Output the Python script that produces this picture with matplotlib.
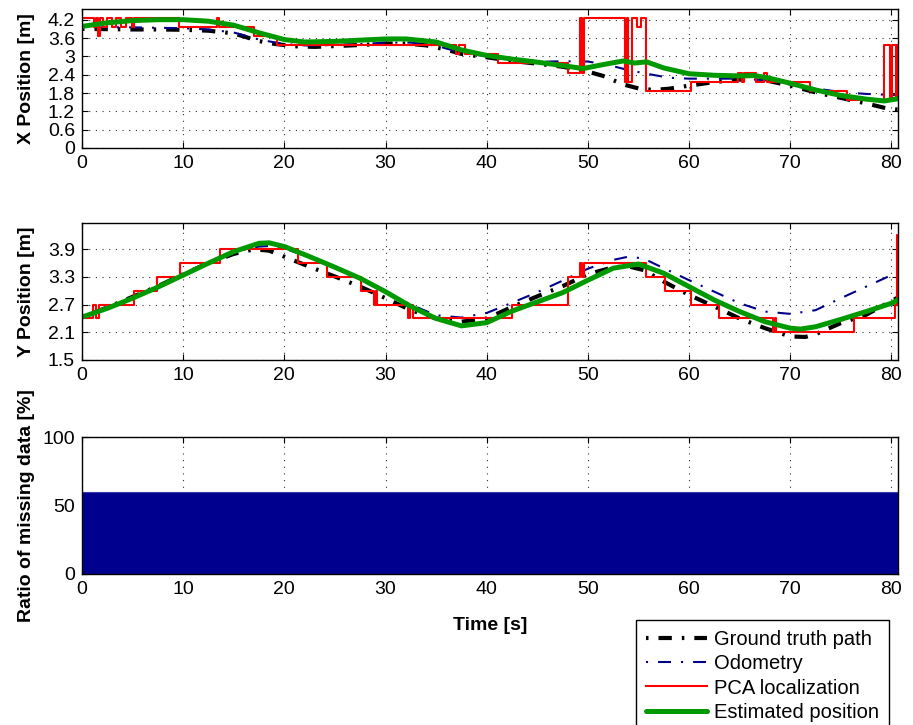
import numpy as np
import matplotlib
matplotlib.use("Agg")
import matplotlib.pyplot as plt

plt.rcParams['font.family'] = ['Liberation Sans', 'DejaVu Sans']

# ---------------- data ----------------
# X position: ground truth
gt_x_t = [0, 2.5, 5, 7.5, 10, 12.5, 15, 17.5, 19, 21, 23, 26, 28, 30, 32, 34, 36, 37.5, 40, 42.5,
          45, 47.5, 50, 51.5, 53.5, 55, 56.5, 58, 60, 62.5, 65, 67.5, 70, 72.5, 75, 77.5, 79.5, 80.6]
gt_x = [3.90, 3.89, 3.88, 3.88, 3.87, 3.84, 3.75, 3.50, 3.41, 3.33, 3.31, 3.35, 3.38, 3.42, 3.42, 3.36,
        3.22, 3.08, 2.97, 2.85, 2.76, 2.66, 2.50, 2.36, 2.08, 1.95, 1.90, 1.94, 2.04, 2.16, 2.24, 2.22,
        2.04, 1.82, 1.64, 1.46, 1.30, 1.26]
# X position: odometry
od_x_t = [0, 5, 10, 12.5, 15, 17.5, 20, 22.5, 25, 27.5, 30, 32.5, 35, 37.5, 40, 42.5, 45, 47.5, 50,
          52, 54, 56, 58, 60, 62.5, 65, 67.5, 70, 72.5, 75, 77.5, 79, 80.6]
od_x = [3.95, 3.95, 3.92, 3.88, 3.78, 3.55, 3.40, 3.35, 3.37, 3.40, 3.45, 3.45, 3.35, 3.12, 3.00, 2.88,
        2.82, 2.84, 2.83, 2.72, 2.55, 2.42, 2.30, 2.27, 2.27, 2.27, 2.22, 2.07, 1.95, 1.83, 1.77, 1.75, 1.73]
# X position: PCA localization (step changes)
pca_x_t = [0, 1.2, 1.4, 1.6, 1.75, 2.1, 2.5, 3.0, 3.4, 3.9, 4.3, 4.9, 5.1, 9.6, 13.3, 13.5, 17.0, 19.3,
           37.0, 37.3, 37.9, 41.1, 48.0, 49.2, 49.4, 49.6, 53.7, 53.9, 54.0, 54.4, 54.9, 55.2, 55.7,
           60.2, 64.8, 65.2, 65.4, 66.6, 67.4, 67.7, 72.0, 75.6, 79.3, 79.9, 80.1, 80.45, 80.55, 80.65]
pca_x = [4.27, 3.97, 4.27, 3.67, 4.27, 3.97, 4.27, 3.97, 4.27, 3.97, 4.27, 3.97, 4.27, 3.97, 4.27, 3.97,
         3.67, 3.37, 3.07, 3.37, 3.07, 2.77, 2.47, 4.27, 2.47, 4.27, 2.17, 4.27, 2.17, 4.27, 3.97, 4.27,
         1.87, 2.17, 2.47, 2.17, 2.47, 2.17, 2.47, 2.17, 1.87, 1.57, 3.37, 1.57, 3.37, 1.57, 3.37, 3.37]
# X position: estimated
est_x_t = [0, 2.5, 5, 7.5, 10, 12.5, 15, 17.5, 20, 22, 25, 27.5, 30, 32, 35, 37.5, 40, 42.5, 45, 47.5,
           49.5, 51.5, 53.5, 54.6, 55.8, 57.5, 60, 62.5, 65, 66.5, 68, 70, 72.5, 75, 77.5, 79.3, 80.6]
est_x = [3.98, 4.10, 4.17, 4.20, 4.20, 4.15, 4.02, 3.77, 3.55, 3.47, 3.49, 3.53, 3.57, 3.57, 3.47, 3.21,
         3.03, 2.91, 2.81, 2.70, 2.60, 2.73, 2.85, 2.78, 2.82, 2.62, 2.43, 2.38, 2.36, 2.37, 2.28, 2.12,
         1.90, 1.72, 1.60, 1.54, 1.61]

# Y position: ground truth
gt_y_t = [0, 2.5, 5, 7.5, 10, 12.5, 15, 17, 18.5, 20, 22.5, 25, 27.5, 30, 32.5, 35, 37.5, 40, 42.5, 45,
          47.5, 50, 52.5, 54, 55.5, 57.5, 60, 62.5, 65, 67.5, 70, 71.5, 72.5, 75, 77.5, 80, 80.6]
gt_y = [2.43, 2.64, 2.87, 3.10, 3.36, 3.60, 3.80, 3.90, 3.87, 3.74, 3.52, 3.31, 3.09, 2.84, 2.58, 2.40,
        2.33, 2.40, 2.65, 2.88, 3.10, 3.36, 3.51, 3.53, 3.45, 3.20, 2.91, 2.66, 2.40, 2.19, 2.01, 2.00,
        2.06, 2.30, 2.48, 2.78, 2.85]
# Y position: odometry
od_y_t = [0, 2.5, 5, 7.5, 10, 12.5, 15, 17.5, 18.5, 20, 22.5, 25, 27.5, 30, 32.5, 35, 37.5, 40, 42.5,
          45, 47.5, 50, 52.5, 54, 55.5, 57.5, 60, 62.5, 65, 67.5, 70, 72.5, 75, 77.5, 80, 80.6]
od_y = [2.43, 2.64, 2.87, 3.10, 3.36, 3.62, 3.84, 3.96, 3.97, 3.92, 3.72, 3.50, 3.27, 2.98, 2.70, 2.47,
        2.42, 2.52, 2.74, 2.97, 3.22, 3.48, 3.67, 3.74, 3.70, 3.49, 3.23, 2.98, 2.73, 2.55, 2.50, 2.58,
        2.84, 3.09, 3.34, 3.40]
# Y position: PCA localization (step changes)
pca_y_t = [0, 1.1, 1.4, 1.7, 5.1, 7.4, 9.7, 13.6, 21.3, 24.2, 27.6, 28.9, 29.1, 29.2, 32.2, 32.4, 32.7,
           42.5, 48.0, 49.2, 49.4, 49.6, 55.7, 57.6, 60.2, 63.0, 68.3, 68.45, 68.6, 76.3, 80.35, 80.55, 80.65]
pca_y = [2.4, 2.7, 2.4, 2.7, 3.0, 3.3, 3.6, 3.9, 3.6, 3.3, 3.0, 2.7, 3.0, 2.7, 2.4, 2.7, 2.4,
         2.7, 3.3, 3.6, 3.3, 3.6, 3.3, 3.0, 2.7, 2.4, 2.1, 2.4, 2.1, 2.4, 2.7, 4.2, 4.2]
# Y position: estimated
est_y_t = [0, 2.5, 5, 7.5, 10, 12.5, 15, 17.5, 18.5, 20, 22.5, 25, 27.5, 30, 32.5, 35, 37.5, 40, 42.5,
           45, 47.5, 50, 52.5, 55, 57.5, 60, 62.5, 65, 67.5, 70, 71, 72.5, 75, 77.5, 80, 80.6]
est_y = [2.43, 2.62, 2.84, 3.08, 3.34, 3.60, 3.85, 4.03, 4.04, 3.96, 3.74, 3.51, 3.27, 2.98, 2.66, 2.40,
         2.24, 2.31, 2.56, 2.76, 2.96, 3.23, 3.49, 3.58, 3.38, 3.09, 2.80, 2.55, 2.33, 2.19, 2.17, 2.22,
         2.38, 2.55, 2.73, 2.80]

# Ratio of missing data
miss_t = [0, 80.65]
miss_ratio = [60, 60]

x_ticks = [0, 10, 20, 30, 40, 50, 60, 70, 80]
xpos_ticks = [0, 0.6, 1.2, 1.8, 2.4, 3.0, 3.6, 4.2]
xpos_labels = ['0', '0.6', '1.2', '1.8', '2.4', '3', '3.6', '4.2']
ypos_ticks = [1.5, 2.1, 2.7, 3.3, 3.9]
ypos_labels = ['1.5', '2.1', '2.7', '3.3', '3.9']
ratio_ticks = [0, 50, 100]

# ---------------- styles ----------------
C_GT = 'black'
C_OD = '#00008B'
C_PCA = '#FF0000'
C_EST = '#009A00'
C_BAR = '#00008F'
LS_GT = (0, (0.6, 2.4, 3.2, 2.4))
LS_OD = (0, (1.0, 4.8, 6.2, 4.8))
TICK_FS = 14
LABEL_FS = 14

fig = plt.figure(figsize=(9.13, 7.25), dpi=100)
W, H = 913, 725
def axrect(x0, y0, x1, y1):
    return [x0 / W, 1 - y1 / H, (x1 - x0) / W, (y1 - y0) / H]

ax1 = fig.add_axes(axrect(82, 9, 898, 148))
ax2 = fig.add_axes(axrect(82, 223, 898, 360))
ax3 = fig.add_axes(axrect(82, 437, 898, 574))

def style(ax):
    ax.set_xlim(0, 80.65)
    ax.set_xticks(x_ticks)
    ax.tick_params(direction='in', top=True, right=True, length=4, width=0.8,
                   labelsize=TICK_FS, pad=5)
    ax.grid(True, linestyle=(0, (1, 5)), color='black', linewidth=0.8, alpha=0.8)
    ax.set_axisbelow(True)
    for s in ax.spines.values():
        s.set_linewidth(1.0)

# Top
h_gt, = ax1.plot(gt_x_t, gt_x, color=C_GT, lw=3, linestyle=LS_GT, label='Ground truth path')
h_od, = ax1.plot(od_x_t, od_x, color=C_OD, lw=1.5, linestyle=LS_OD, label='Odometry')
h_pca, = ax1.plot(pca_x_t, pca_x, color=C_PCA, lw=1.5, drawstyle='steps-post', label='PCA localization')
h_est, = ax1.plot(est_x_t, est_x, color=C_EST, lw=3.6, label='Estimated position',
                  solid_capstyle='round', solid_joinstyle='round')
style(ax1)
ax1.set_ylim(0, 4.55)
ax1.set_yticks(xpos_ticks)
ax1.set_yticklabels(xpos_labels)
ax1.set_ylabel('X Position [m]', fontsize=LABEL_FS, fontweight='bold')

# Middle
ax2.plot(gt_y_t, gt_y, color=C_GT, lw=3, linestyle=LS_GT)
ax2.plot(od_y_t, od_y, color=C_OD, lw=1.5, linestyle=LS_OD)
ax2.plot(pca_y_t, pca_y, color=C_PCA, lw=1.5, drawstyle='steps-post')
ax2.plot(est_y_t, est_y, color=C_EST, lw=3.6, solid_capstyle='round', solid_joinstyle='round')
style(ax2)
ax2.set_ylim(1.5, 4.47)
ax2.set_yticks(ypos_ticks)
ax2.set_yticklabels(ypos_labels)
ax2.set_ylabel('Y Position [m]', fontsize=LABEL_FS, fontweight='bold')

# Bottom
ax3.fill_between(miss_t, miss_ratio, 0, step='post', color=C_BAR, edgecolor='#3a3aa8',
                 linewidth=0.8, zorder=2)
style(ax3)
ax3.set_ylim(0, 100)
ax3.set_yticks(ratio_ticks)
ax3.set_ylabel('Ratio of missing data [%]', fontsize=LABEL_FS, fontweight='bold')
ax3.set_xlabel('Time [s]', fontsize=LABEL_FS, fontweight='bold', labelpad=14)

for ax in (ax1, ax2, ax3):
    ax.yaxis.set_label_coords(-0.058, 0.5)

leg = fig.legend(handles=[h_gt, h_od, h_pca, h_est], loc='upper right',
                 bbox_to_anchor=(889 / W, 1 - 620 / H), bbox_transform=fig.transFigure,
                 fontsize=14.5, frameon=True, fancybox=False, framealpha=1,
                 edgecolor='black', handlelength=3.0, handletextpad=0.35,
                 labelspacing=0.26, borderpad=0.5, borderaxespad=0)
leg.get_frame().set_linewidth(1.0)

fig.savefig('out.png', dpi=100)
